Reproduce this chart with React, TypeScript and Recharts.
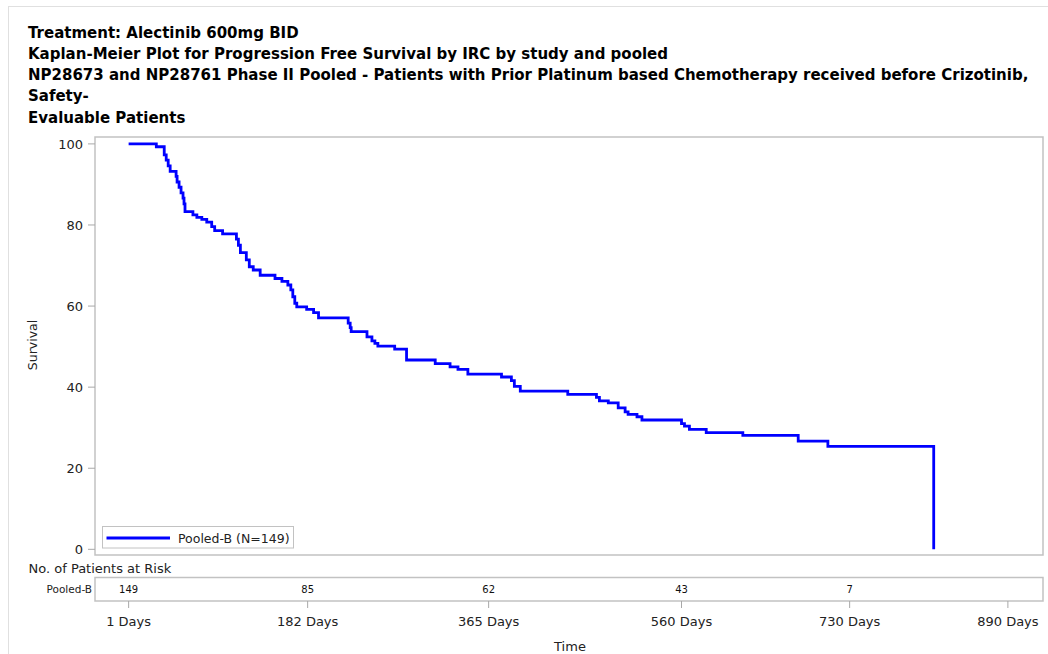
import React from 'react';
import { LineChart, Line, XAxis, YAxis, ReferenceArea, Legend, ComposedChart, Scatter } from 'recharts';

const FONT = '"DejaVu Sans", Verdana, sans-serif';

const titleLines = [
  'Treatment: Alectinib 600mg BID',
  'Kaplan-Meier Plot for Progression Free Survival by IRC by study and pooled',
  'NP28673 and NP28761 Phase II Pooled - Patients with Prior Platinum based Chemotherapy received before Crizotinib,',
  'Safety-',
  'Evaluable Patients',
];

const stepDays = [
  1, 29, 37, 39, 41, 43, 49, 50, 52, 54,
  56, 57, 58, 66, 70, 75, 80, 85, 88, 96,
  110, 112, 114, 120, 123, 127, 134, 149, 156, 162,
  165, 167, 169, 171, 181, 188, 193, 223, 225, 226,
  242, 247, 250, 253, 270, 282, 311, 326, 334, 344,
  378, 388, 391, 397, 445, 474, 477, 486, 496, 503,
  506, 515, 520, 560, 563, 568, 585, 622, 678, 708,
  815,
];

const stepSurvival = [
  100, 99.3, 97.3, 96.0, 94.6, 93.2, 92.0, 90.6, 89.3, 87.9,
  86.6, 85.2, 83.3, 82.5, 81.9, 81.4, 80.7, 79.6, 78.6, 77.8,
  76.5, 75.0, 73.2, 71.4, 69.7, 68.9, 67.6, 66.8, 66.1, 65.2,
  64.0, 62.3, 60.7, 59.8, 59.2, 58.4, 57.1, 55.8, 54.7, 53.7,
  52.4, 51.4, 50.8, 50.1, 49.4, 46.7, 45.8, 45.0, 44.4, 43.2,
  42.5, 41.6, 40.2, 39.0, 38.2, 37.5, 36.6, 36.1, 34.9, 33.9,
  33.3, 32.7, 31.9, 31.0, 30.4, 29.6, 28.8, 28.1, 26.7, 25.4,
  0,
];

const seriesName = 'Pooled-B (N=149)';
const riskGroup = 'Pooled-B';
const riskDays = [1, 182, 365, 560, 730];
const riskCounts = [149, 85, 62, 43, 7];
const xTicks = [1, 182, 365, 560, 730, 890];
const yTicks = [0, 20, 40, 60, 80, 100];

const X_DOMAIN: [number, number] = [-33, 925.5];
const Y_DOMAIN: [number, number] = [-1.4, 101.7];

const kmData = stepDays.map((d, i) => ({ day: d, survival: stepSurvival[i] }));
const riskData = riskDays.map((d, i) => ({ day: d, row: 0.5, n: riskCounts[i] }));

const BORDER = '#c2c2c2';
const TICK_LINE = '#a8a8a8';
const TEXT = '#222';

const LegendBox = (props: any) => {
  const item = (props.payload && props.payload[0]) || { value: seriesName, color: '#0000ff' };
  return (
    <svg width={192} height={23} style={{ display: 'block' }}>
      <rect x={0.5} y={0.5} width={191} height={21.5} fill="#fff" stroke={BORDER} strokeWidth={1} />
      <line x1={4.5} x2={68} y1={12} y2={12} stroke={item.color} strokeWidth={2.8} />
      <text x={76} y={12} dy="0.36em" fontSize={12.5} fontFamily={FONT} fill={TEXT}>
        {item.value}
      </text>
    </svg>
  );
};

const RiskLabel = (props: any) => {
  const { cx, cy, payload } = props;
  return (
    <text x={cx} y={cy} dy="0.36em" textAnchor="middle" fontSize={10} fontFamily={FONT} fill="#111">
      {payload.n}
    </text>
  );
};

export default function App() {
  return (
    <div style={{ position: 'absolute', left: 0, top: 0, width: 1048, height: 654, background: '#fff', overflow: 'hidden' }}>
      <div style={{ position: 'absolute', left: 8, top: 6, width: 1100, height: 700, borderTop: '1px solid #e0e0e0', borderLeft: '1px solid #e0e0e0' }} />
      <svg width={1048} height={654} style={{ position: 'absolute', left: 0, top: 0 }}>
        {titleLines.map((t, i) => (
          <text key={i} x={28} y={37.5 + i * 21.3} fontSize={15} fontWeight="bold" fontFamily={FONT} fill="#000">
            {t}
          </text>
        ))}
        <text x={32.5} y={345} dy="0.36em" transform="rotate(-90 32.5 345)" textAnchor="middle" fontSize={12.5} fontFamily={FONT} fill={TEXT}>
          Survival
        </text>
        <text x={28.5} y={568.5} dy="0.36em" fontSize={13} fontFamily={FONT} fill={TEXT}>
          No. of Patients at Risk
        </text>
        <text x={570} y={646.5} dy="0.36em" textAnchor="middle" fontSize={13} fontFamily={FONT} fill={TEXT}>
          Time
        </text>
      </svg>
      <div style={{ position: 'absolute', left: 0, top: 0 }}>
        <LineChart width={1048} height={560} data={kmData} margin={{ top: 137, right: 5, bottom: 5, left: 0 }}>
          <XAxis type="number" dataKey="day" domain={X_DOMAIN} allowDataOverflow hide />
          <YAxis
            type="number"
            domain={Y_DOMAIN}
            allowDataOverflow
            ticks={yTicks}
            interval={0}
            width={95}
            tickSize={7}
            tickMargin={5}
            axisLine={false}
            tickLine={{ stroke: TICK_LINE }}
            tick={{ fill: TEXT, fontSize: 13, fontFamily: FONT }}
          />
          <ReferenceArea x1={X_DOMAIN[0]} x2={X_DOMAIN[1]} y1={Y_DOMAIN[0]} y2={Y_DOMAIN[1]} fill="none" stroke={BORDER} strokeWidth={1.5} ifOverflow="visible" />
          <Line type="stepAfter" dataKey="survival" name={seriesName} stroke="#0000ff" strokeWidth={2.8} dot={false} activeDot={false} isAnimationActive={false} />
          <Legend
            layout="horizontal"
            align="center"
            verticalAlign="middle"
            content={LegendBox}
            wrapperStyle={{ position: 'absolute', left: 102, top: 526, width: 192, height: 23 }}
          />
        </LineChart>
      </div>
      <div style={{ position: 'absolute', left: 0, top: 560 }}>
        <ComposedChart width={1048} height={94} data={riskData} margin={{ top: 17.5, right: 5, bottom: 0, left: 0 }}>
          <XAxis
            type="number"
            dataKey="day"
            domain={X_DOMAIN}
            allowDataOverflow
            ticks={xTicks}
            interval={0}
            tickFormatter={(v: number) => `${v} Days`}
            height={53}
            tickSize={7}
            tickMargin={9}
            axisLine={false}
            tickLine={{ stroke: TICK_LINE }}
            tick={{ fill: TEXT, fontSize: 13, fontFamily: FONT }}
          />
          <YAxis
            type="number"
            dataKey="row"
            domain={[0, 1]}
            ticks={[0.5]}
            interval={0}
            tickFormatter={() => riskGroup}
            width={95}
            tickSize={0}
            tickMargin={3}
            axisLine={false}
            tickLine={false}
            tick={{ fill: TEXT, fontSize: 10.5, fontFamily: FONT }}
          />
          <ReferenceArea x1={X_DOMAIN[0]} x2={X_DOMAIN[1]} y1={0} y2={1} fill="none" stroke={BORDER} strokeWidth={1.5} ifOverflow="visible" />
          <Scatter dataKey="row" shape={RiskLabel} isAnimationActive={false} />
        </ComposedChart>
      </div>
    </div>
  );
}
